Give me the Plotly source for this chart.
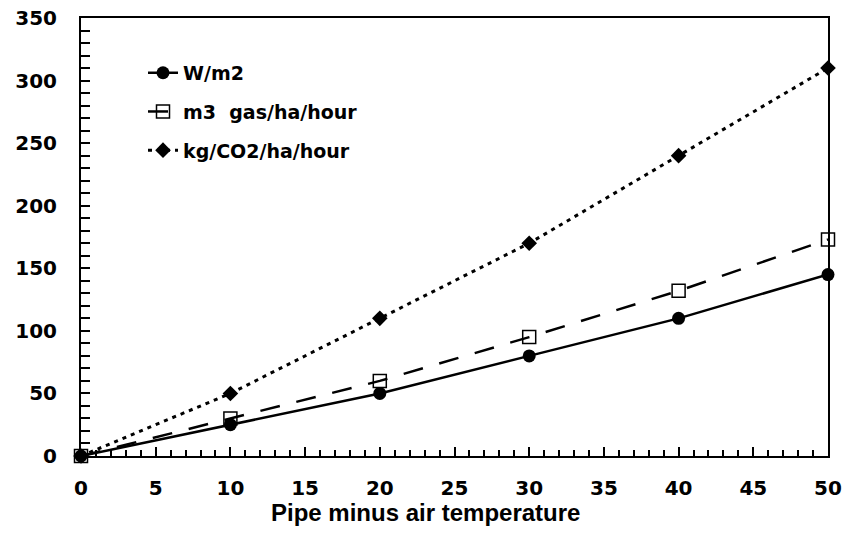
import plotly.graph_objects as go

x_vals = [0, 10, 20, 30, 40, 50]
w_m2 = [0, 25, 50, 80, 110, 145]
m3_gas = [0, 30, 60, 95, 132, 173]
kg_co2 = [0, 50, 110, 170, 240, 310]
series_names = ["W/m2", "m3  gas/ha/hour", "kg/CO2/ha/hour"]
x_title = "Pipe minus air temperature"

FONT = "Liberation Sans, Arial, sans-serif"
WIDE = "DejaVu Sans, sans-serif"

fig = go.Figure()
fig.add_trace(go.Scatter(
    x=x_vals, y=w_m2, name=series_names[0], legendgroup="a",
    mode="lines+markers",
    line=dict(color="black", width=2.5, dash="solid"),
    marker=dict(symbol="circle", size=13, color="black"),
    cliponaxis=False,
))
fig.add_trace(go.Scatter(
    x=x_vals, y=m3_gas, name=series_names[1], legendgroup="b",
    mode="lines+markers",
    line=dict(color="black", width=2.5, dash="20px,17px"),
    marker=dict(symbol="square-open", size=13, color="black", line=dict(width=1.5)),
    cliponaxis=False,
))
fig.add_trace(go.Scatter(
    x=x_vals, y=kg_co2, name=series_names[2], legendgroup="c",
    mode="lines+markers",
    line=dict(color="black", width=3, dash="4px,5px"),
    marker=dict(symbol="diamond", size=12, color="black"),
    cliponaxis=False,
))

fig.add_annotation(
    text=x_title, xref="paper", yref="paper",
    x=0.461, y=-0.093, xanchor="center", yanchor="top",
    showarrow=False,
    font=dict(family=FONT, size=24, color="black", weight="bold"),
)

fig.update_layout(
    width=844, height=533,
    margin=dict(l=81, r=16, t=18, b=77),
    paper_bgcolor="white", plot_bgcolor="white",
    font=dict(family=FONT, color="black"),
    showlegend=True,
    legend=dict(
        x=0.083, y=0.918, xanchor="left", yanchor="top",
        bgcolor="rgba(0,0,0,0)",
        font=dict(family=WIDE, size=19, color="black", weight="bold"),
        tracegroupgap=11,
    ),
    xaxis=dict(
        range=[0, 50], dtick=5, tick0=0, automargin=False,
        showgrid=False, zeroline=False,
        showline=True, linecolor="black", linewidth=2, mirror=True,
        ticks="inside", ticklen=9, tickwidth=2, tickcolor="black",
        minor=dict(dtick=1, ticks="inside", ticklen=6, tickwidth=1.5, tickcolor="black"),
        tickfont=dict(family=WIDE, size=20, color="black", weight="bold"),
        ticklabelstandoff=13,
    ),
    yaxis=dict(
        range=[0, 350], dtick=50, tick0=0, automargin=False,
        showgrid=False, zeroline=False,
        showline=True, linecolor="black", linewidth=2, mirror=True,
        ticks="inside", ticklen=9, tickwidth=2, tickcolor="black",
        minor=dict(dtick=10, ticks="inside", ticklen=9, tickwidth=1.5, tickcolor="black"),
        tickfont=dict(family=WIDE, size=20, color="black", weight="bold"),
        ticklabelstandoff=18,
    ),
)

fig.write_html("out.html", config={"displayModeBar": False},
               post_script="document.body.style.margin='0';")
